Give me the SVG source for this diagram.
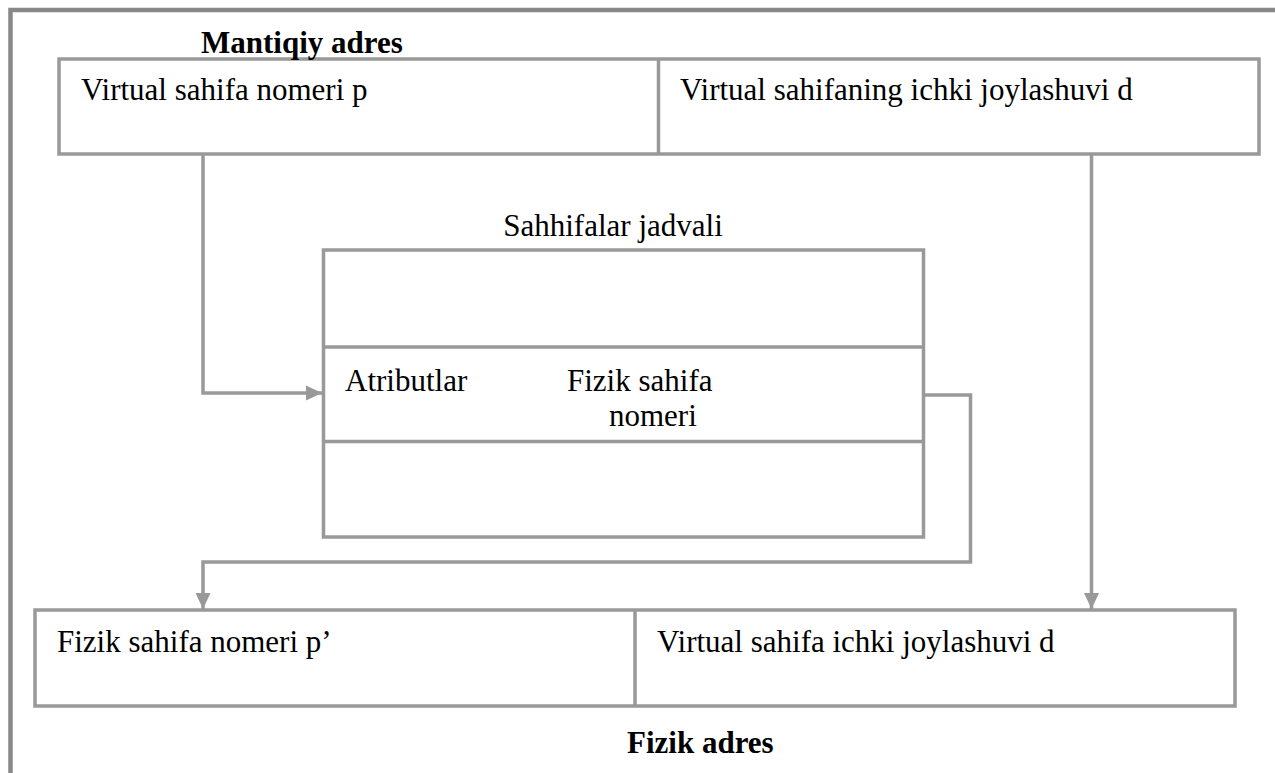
<svg xmlns="http://www.w3.org/2000/svg" width="1275" height="773" viewBox="0 0 1275 773">
  <defs>
    <style>
      .frame { fill: none; stroke: #888888; stroke-width: 4.5; }
      .box { fill: #ffffff; stroke: #999999; stroke-width: 3.5; }
      .sep { stroke: #999999; stroke-width: 3.5; }
      .wire { fill: none; stroke: #999999; stroke-width: 3.5; }
      .lbl { font-family: "Liberation Serif", "Times New Roman", serif; font-size: 31px; fill: #000000; }
      .title { font-family: "Liberation Serif", "Times New Roman", serif; font-size: 31px; font-weight: bold; fill: #000000; }
    </style>
    <marker id="arrow" markerWidth="17" markerHeight="16" refX="16" refY="8" orient="auto" markerUnits="userSpaceOnUse">
      <path d="M0,0.5 L16,8 L0,15.5 Z" fill="#999999"/>
    </marker>
  </defs>

  <rect width="1275" height="773" fill="#ffffff"/>

  <!-- page frame (top and left edges) -->
  <path class="frame" d="M10.5,773 V10 H1275"/>

  <!-- logical address -->
  <g id="logical-address">
    <rect class="box" x="59" y="59" width="1200" height="95"/>
    <line class="sep" x1="658.5" y1="59" x2="658.5" y2="154"/>
    <text class="title" x="201" y="53">Mantiqiy adres</text>
    <text class="lbl" x="81" y="100">Virtual sahifa nomeri p</text>
    <text class="lbl" x="680" y="100">Virtual sahifaning ichki joylashuvi d</text>
  </g>

  <!-- page table -->
  <g id="page-table">
    <text class="lbl" x="613" y="236" text-anchor="middle">Sahhifalar jadvali</text>
    <rect class="box" x="323.5" y="250" width="600" height="287"/>
    <line class="sep" x1="323.5" y1="347" x2="923.5" y2="347"/>
    <line class="sep" x1="323.5" y1="441.5" x2="923.5" y2="441.5"/>
    <text class="lbl" x="345" y="391">Atributlar</text>
    <text class="lbl" x="567" y="391">Fizik sahifa</text>
    <text class="lbl" x="609" y="426">nomeri</text>
  </g>

  <!-- physical address -->
  <g id="physical-address">
    <rect class="box" x="35" y="610" width="1200" height="96"/>
    <line class="sep" x1="635" y1="610" x2="635" y2="706"/>
    <text class="lbl" x="57" y="652">Fizik sahifa nomeri p’</text>
    <text class="lbl" x="657" y="652">Virtual sahifa ichki joylashuvi d</text>
    <text class="title" x="627" y="753">Fizik adres</text>
  </g>

  <!-- connectors -->
  <g id="connectors">
    <path class="wire" d="M203,154 V393 H322" marker-end="url(#arrow)"/>
    <path class="wire" d="M1091.5,154 V609" marker-end="url(#arrow)"/>
    <path class="wire" d="M923.5,395 H970.5 V562 H203 V609" marker-end="url(#arrow)"/>
  </g>
</svg>
